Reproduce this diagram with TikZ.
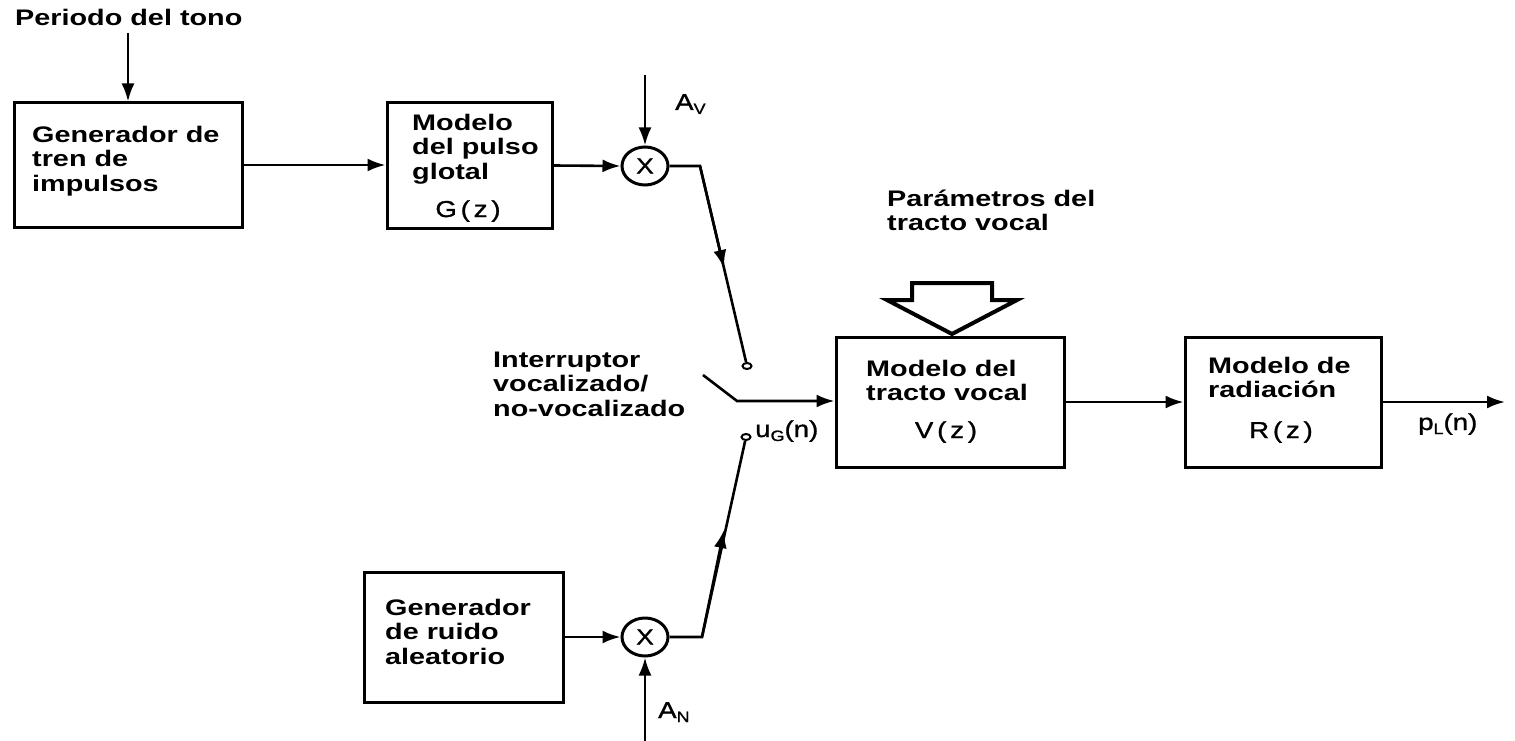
\documentclass[tikz,border=0pt]{standalone}
\usepackage{fontspec}
\newfontfamily\lbl{Liberation Sans}[FakeStretch=1.28]
\newfontfamily\mth{Liberation Sans}[FakeStretch=1.2,FakeBold=1.2]
\usetikzlibrary{arrows.meta,shapes.geometric}
\newcommand{\sbs}[1]{\raisebox{-4pt}{\fontsize{15}{15}\selectfont #1}}
\begin{document}
\begin{tikzpicture}[x=1pt,y=-1pt,
  blk/.style={draw, rectangle, line width=3pt, inner sep=0pt},
  txt/.style={font=\lbl\bfseries\fontsize{22.5}{24.5}\selectfont, align=left, inner sep=0pt, anchor=base west},
  fn/.style={font=\mth\fontsize{23}{26}\selectfont, inner sep=0pt, anchor=base},
  wire/.style={line width=2.6pt},
  arr/.style={wire, -{Latex[length=18pt,width=13pt]}},
  mult/.style={draw, ellipse, line width=3pt, minimum width=46pt, minimum height=38pt, inner sep=0pt},
  cont/.style={draw, ellipse, line width=2pt, minimum width=9pt, minimum height=6pt, inner sep=0pt}]
\useasboundingbox (0,0) rectangle (1515,741);

% blocks
\node[blk, minimum width=228pt, minimum height=124pt] (gen) at (128,165) {};
\node[blk, minimum width=165pt, minimum height=125pt] (glot) at (469.5,165.5) {};
\node[blk, minimum width=228pt, minimum height=130pt] (tract) at (950,402) {};
\node[blk, minimum width=196pt, minimum height=130pt] (rad) at (1283,402) {};
\node[blk, minimum width=199pt, minimum height=130pt] (noise) at (463.5,637) {};

% texts (anchor = baseline of the last line)
\node[txt] (tpt) at (15,26) {Periodo del tono};
\node[txt] (tgen) at (32,191) {Generador de\\tren de\\impulsos};
\node[txt] (tglot) at (412,179) {Modelo\\del pulso\\glotal};
\node[fn] (gz) at (468,217) {G\,(\,z\,)};
\node[txt] (tpar) at (887,230.5) {Parámetros del\\tracto vocal};
\node[txt] (ttract) at (866,400.5) {Modelo del\\tracto vocal};
\node[fn] (vz) at (946,438) {V\,(\,z\,)};
\node[txt] (trad) at (1208,397.5) {Modelo de\\radiación};
\node[fn] (rz) at (1281,438) {R\,(\,z\,)};
\node[txt] (tnoise) at (385,664) {Generador\\de ruido\\aleatorio};
\node[txt] (tsw) at (493,416) {Interruptor\\vocalizado/\\no-vocalizado};
\node[fn, anchor=base west] (lav) at (675,110) {A\sbs{V}};
\node[fn, anchor=base west] (lan) at (658,718) {A\sbs{N}};
\node[fn, anchor=base west] (lug) at (755,437) {u\sbs{G}(n)};
\node[fn, anchor=base west] (lpl) at (1418,430) {p\sbs{L}(n)};

% multipliers and switch contacts
\node[mult] (m1) at (645,166) {\mth\fontsize{22}{22}\selectfont X};
\node[mult] (m2) at (645,637) {\mth\fontsize{22}{22}\selectfont X};
\node[cont] (c1) at (747,366) {};
\node[cont] (c2) at (746,437) {};

% coordinates
\coordinate (pt) at (128,33);
\coordinate (av) at (645,75);
\coordinate (an) at (645,741);
\coordinate (k1) at (700,166);
\coordinate (mid1) at (724,268);
\coordinate (k2) at (702,637);
\coordinate (mid2) at (724,530);
\coordinate (sw) at (703,375);
\coordinate (piv) at (737,401);
\coordinate (out) at (1505,402);

% connectors
\draw[arr] (pt) -- (gen.north);
\draw[arr] (gen.east) -- (gen.east -| glot.west);
\draw[arr] (glot.east) -- (m1.west);
\draw[arr] (av) -- (m1.north);
\draw[wire] (m1.east) -- (k1) -- (c1);
\draw[arr] (k1) -- (mid1);
\draw[arr] (noise.east) -- (m2.west);
\draw[arr] (an) -- (m2.south);
\draw[wire] (m2.east) -- (k2) -- (c2);
\draw[arr] (k2) -- (mid2);
\draw[arr] (sw) -- (piv) -- (piv -| tract.west);
\draw[arr] (tract.east) -- (rad.west);
\draw[arr] (rad.east) -- (out);

% hollow arrow
\draw[line width=4pt, line join=miter, fill=white]
  (912,283) -- (992,283) -- (992,300) -- (1017,300) -- (952,334) -- (887,300) -- (912,300) -- cycle;
\end{tikzpicture}
\end{document}
